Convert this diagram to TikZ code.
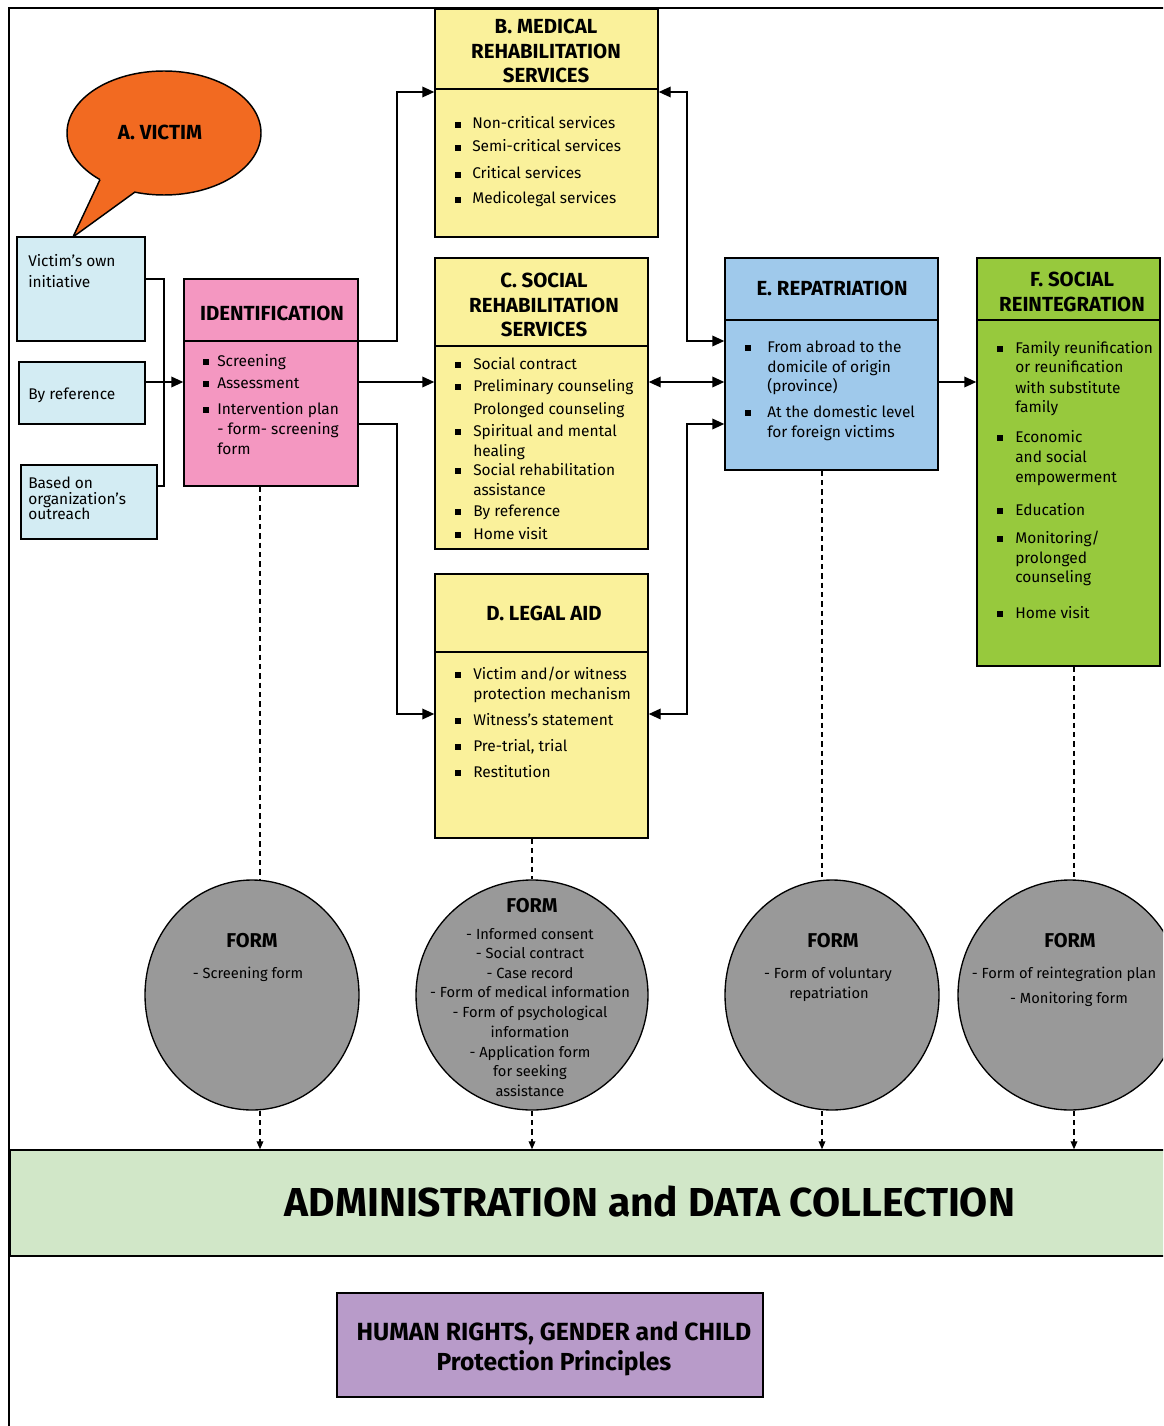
\documentclass[tikz,border=0pt]{standalone}
\usepackage{fontspec}
\usepackage{graphicx}
\setmainfont{Fira Sans}
\usetikzlibrary{arrows.meta,shapes.geometric,fit}
\definecolor{vorange}{HTML}{F26A21}
\definecolor{inblue}{HTML}{D3ECF3}
\definecolor{idpink}{HTML}{F497C1}
\definecolor{svyellow}{HTML}{FAF19B}
\definecolor{repblue}{HTML}{9FC9EB}
\definecolor{reigreen}{HTML}{97C93D}
\definecolor{formgray}{HTML}{999999}
\definecolor{admgreen}{HTML}{D1E7C8}
\definecolor{hrpurple}{HTML}{B89BC9}
\begin{document}
\begin{tikzpicture}[x=0.75pt,y=-0.75pt,
  boxline/.style={line width=1.1pt},
  panel/.style={draw, boxline, inner sep=0pt},
  ttl/.style={font=\fontsize{15.3}{18.4}\selectfont\bfseries, align=center, inner sep=0pt},
  item/.style={font=\fontsize{11.6}{13}\selectfont, inner sep=0pt, anchor=base west},
  citem/.style={font=\fontsize{11}{12}\selectfont, inner sep=0pt, anchor=base},
  bul/.style={fill=black, inner sep=0pt, minimum size=4.2pt},
  arr/.style={line width=1.1pt, -{Triangle[length=9pt,width=8pt]}},
  biarr/.style={line width=1.1pt, {Triangle[length=9pt,width=8pt]}-{Triangle[length=9pt,width=8pt]}},
  dsh/.style={line width=1pt, dash pattern=on 4pt off 3pt},
  dsharr/.style={line width=1pt, dash pattern=on 4pt off 3pt, -{Triangle[length=6pt,width=5pt]}},
  formc/.style={ellipse, draw, line width=1pt, fill=formgray, inner sep=0pt, minimum height=172.5pt},
  formt/.style={font=\fontsize{15}{16}\selectfont\bfseries, inner sep=0pt, anchor=base}
]
\useasboundingbox (0,0) rectangle (1163,1426);
\clip (0,0) rectangle (1163,1426);

% helper coordinates
\coordinate (xI) at (164,0);
\coordinate (xM) at (397,0);
\coordinate (xR) at (687,0);
\coordinate (y92) at (0,92);
\coordinate (y279) at (0,279);
\coordinate (y341) at (0,341);
\coordinate (y382) at (0,382);
\coordinate (y424) at (0,424);
\coordinate (y486) at (0,486);
\coordinate (y714) at (0,714);
\coordinate (xL1) at (260,0);
\coordinate (xL2) at (532,0);
\coordinate (xL3) at (822,0);
\coordinate (xL4) at (1074,0);

% outer frame
\coordinate (fbl) at (9,1440);
\coordinate (ftl) at (9,8);
\coordinate (ftr) at (1180,8);
\draw[line width=1pt] (fbl) -- (ftl) -- (ftr);

% victim bubble
\node[ellipse, draw, line width=1.1pt, fill=vorange, minimum width=145.5pt, minimum height=93pt, inner sep=0pt] (victim) at (164,133) {};
\fill[vorange] (100,179.6) -- (73,237) -- (135,192) -- (125,178) -- (105,172) -- cycle;
\coordinate (tailA) at (100,179.6);
\coordinate (tailT) at (73,237);
\coordinate (tailB) at (135,192);
\draw[line width=1.1pt, line join=miter] (tailA) -- (tailT) -- (tailB);
\node[ttl] (victimt) at (160,132) {A. VICTIM};

% input boxes
\node[panel, fill=inblue, fit={(17,237) (145,341)}] (in1) {};
\node[panel, fill=inblue, fit={(19,362) (145,424)}] (in2) {};
\node[panel, fill=inblue, fit={(21,465) (157,539)}] (in3) {};
\node[item] (in1a) at (28,267) {Victim’s own};
\node[item] (in1b) at (28,287) {initiative};
\node[item] (in2a) at (28,399) {By reference};
\node[item] (in3a) at (28,488) {Based on};
\node[item] (in3b) at (28,504) {organization’s};
\node[item] (in3c) at (28,519) {outreach};

% identification
\node[panel, fill=idpink, fit={(184,279) (358,486)}] (ident) {};
\draw[boxline] (ident.west |- y341) -- (ident.east |- y341);
\node[ttl] (identt) at (272,313) {IDENTIFICATION};
\foreach \t/\y/\b [count=\i] in {Screening/361/1, Assessment/383/1, Intervention plan/409/1, {- form- screening}/429/0, form/449/0}{
  \node[item] (it\i) at (217,\y+5) {\t};
  \ifnum\b=1 \node[bul] (ib\i) at (206,\y+1) {};\fi
}

% B medical
\node[panel, fill=svyellow, fit={(435,9) (658,237)}] (B) {};
\coordinate (y89) at (0,89);
\draw[boxline] (B.west |- y89) -- (B.east |- y89);
\node[ttl] (Bt) at (546,51) {B. MEDICAL\\REHABILITATION\\SERVICES};
\foreach \t/\y [count=\i] in {Non-critical services/124, Semi-critical services/147, Critical services/174, Medicolegal services/199}{
  \node[item] (bt\i) at (472,\y+5) {\t};
  \node[bul] (bb\i) at (458,\y+1) {};
}

% C social rehab
\node[panel, fill=svyellow, fit={(435,258) (648,549)}] (C) {};
\coordinate (y346) at (0,346);
\draw[boxline] (C.west |- y346) -- (C.east |- y346);
\node[ttl] (Ct) at (544,305) {C. SOCIAL\\REHABILITATION\\SERVICES};
\foreach \t/\y/\b [count=\i] in {Social contract/364/1, Preliminary counseling/386/1, Prolonged counseling/409/0, Spiritual and mental/431/1, healing/451/0, Social rehabilitation/470/1, assistance/490/0, By reference/511/1, Home visit/534/1}{
  \node[item] (ct\i) at (473,\y+5) {\t};
  \ifnum\b=1 \node[bul] (cb\i) at (458,\y+1) {};\fi
}

% D legal aid
\node[panel, fill=svyellow, fit={(435,574) (648,838)}] (D) {};
\coordinate (y652) at (0,652);
\draw[boxline] (D.west |- y652) -- (D.east |- y652);
\node[ttl] (Dt) at (544,613) {D. LEGAL AID};
\foreach \t/\y/\b [count=\i] in {{Victim and/or witness}/674/1, protection mechanism/694/0, Witness’s statement/720/1, {Pre-trial, trial}/746/1, Restitution/772/1}{
  \node[item] (dt\i) at (473,\y+5) {\t};
  \ifnum\b=1 \node[bul] (db\i) at (458,\y+1) {};\fi
}

% E repatriation
\node[panel, fill=repblue, fit={(725,258) (938,470)}] (E) {};
\coordinate (y320) at (0,320);
\draw[boxline] (E.west |- y320) -- (E.east |- y320);
\node[ttl] (Et) at (832,288) {E. REPATRIATION};
\foreach \t/\y/\b [count=\i] in {From abroad to the/347/1, domicile of origin/367/0, (province)/386/0, At the domestic level/412/1, for foreign victims/432/0}{
  \node[item] (et\i) at (767,\y+5) {\t};
  \ifnum\b=1 \node[bul] (eb\i) at (748,\y+1) {};\fi
}

% F social reintegration
\node[panel, fill=reigreen, fit={(977,258) (1160,666)}] (F) {};
\draw[boxline] (F.west |- y320) -- (F.east |- y320);
\node[ttl] (Ft) at (1072,292) {F. SOCIAL\\REINTEGRATION};
\foreach \t/\y/\b [count=\i] in {Family reunification/348/1, or reunification/367/0, with substitute/388/0, family/407/0, Economic/437/1, and social/457/0, empowerment/477/0, Education/510/1, {Monitoring/}/538/1, prolonged/558/0, counseling/577/0, Home visit/613/1}{
  \node[item] (ft\i) at (1015,\y+5) {\t};
  \ifnum\b=1 \node[bul] (fb\i) at (1000,\y+1) {};\fi
}

% connectors: inputs
\draw[boxline] (in1.east |- y279) -| (xI |- y486) -- (in3.east |- y486);
\draw[arr] (in2.east |- y382) -- (ident.west |- y382);
% identification to services
\draw[arr] (ident.east |- y341) -| (xM |- y92) -- (B.west |- y92);
\draw[arr] (ident.east |- y382) -- (C.west |- y382);
\draw[arr] (ident.east |- y424) -| (xM |- y714) -- (D.west |- y714);
% services to repatriation
\draw[biarr] (B.east |- y92) -| (xR |- y341) -- (E.west |- y341);
\draw[biarr] (C.east |- y382) -- (E.west |- y382);
\draw[biarr] (D.east |- y714) -| (xR |- y424) -- (E.west |- y424);
\draw[arr] (E.east |- y382) -- (F.west |- y382);

% form circles
\node[formc, minimum width=160.5pt] (c1) at (252,995) {};
\node[formc, minimum width=174pt] (c2) at (532,995) {};
\node[formc, minimum width=160.5pt] (c3) at (832,995) {};
\node[formc, minimum width=168pt] (c4) at (1070,995) {};

\node[formt] (c1t) at (252,947) {FORM};
\node[citem] (c1a) at (248,978) {- Screening form};

\node[formt] (c2t) at (532,912) {FORM};
\foreach \t/\y [count=\i] in {- Informed consent/934, - Social contract/953, - Case record/973, - Form of medical information/992, - Form of psychological/1012, information/1032, - Application form/1052, for seeking/1071, assistance/1091}{
  \node[citem] (c2l\i) at (530,\y+5) {\t};
}

\node[formt] (c3t) at (833,947) {FORM};
\node[citem] (c3a) at (828,978) {- Form of voluntary};
\node[citem] (c3b) at (829,998) {repatriation};

\node[formt] (c4t) at (1070,947) {FORM};
\node[citem] (c4a) at (1064,978) {- Form of reintegration plan};
\node[citem] (c4b) at (1069,1003) {- Monitoring form};

% administration
\node[panel, fill=admgreen, fit={(10,1150) (1190,1256)}] (admin) {};
\node[inner sep=0pt] (admint) at (650,1201) {\resizebox{547.5pt}{23pt}{\bfseries ADMINISTRATION and DATA COLLECTION}};

% dashed flows
\draw[dsh] (ident.south -| xL1) -- (c1.north -| xL1);
\draw[dsharr] (c1.south -| xL1) -- (admin.north -| xL1);
\draw[dsh] (D.south -| xL2) -- (c2.north -| xL2);
\draw[dsharr] (c2.south -| xL2) -- (admin.north -| xL2);
\draw[dsh] (E.south -| xL3) -- (c3.north -| xL3);
\draw[dsharr] (c3.south -| xL3) -- (admin.north -| xL3);
\draw[dsh] (F.south -| xL4) -- (c4.north -| xL4);
\draw[dsharr] (c4.south -| xL4) -- (admin.north -| xL4);

% human rights box
\node[panel, fill=hrpurple, fit={(337,1293) (763,1397)}] (hr) {};
\node[inner sep=0pt, anchor=base] (hrt1) at (554,1340) {\resizebox{296pt}{!}{\bfseries HUMAN RIGHTS, GENDER and CHILD}};
\node[inner sep=0pt, anchor=base] (hrt2) at (554,1370) {\resizebox{176pt}{!}{\bfseries Protection Principles}};
\end{tikzpicture}
\end{document}
